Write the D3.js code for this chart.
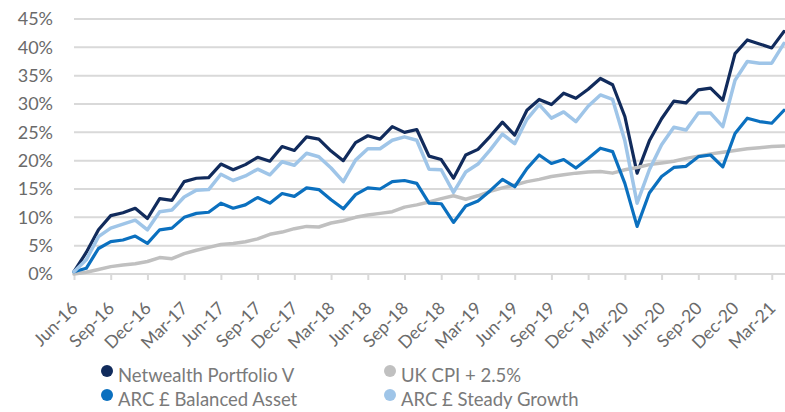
<!DOCTYPE html>
<html>
<head>
<meta charset="utf-8">
<script src="https://cdn.jsdelivr.net/npm/d3@7"></script>
<style>
    html, body { margin: 0; padding: 0; background: #fff; }
    .chart { width: 785px; height: 412px; }
    .grid-line { stroke: #d9d9d9; stroke-width: 2; }
    .axis path, .axis line { stroke: #d9d9d9; stroke-width: 2; }
    .axis text, .y-label { fill: #6a6a6a; font-family: Lato, sans-serif; }
    .series { fill: none; stroke-linejoin: round; stroke-linecap: round; }
    .legend text { fill: #7a7a7a; font-family: Lato, sans-serif; font-size: 18.5px; }
</style>
</head>
<body>
<div class="chart"></div>
<script>
var months = [
    'Jun-16', 'Jul-16', 'Aug-16', 'Sep-16', 'Oct-16', 'Nov-16', 'Dec-16',
    'Jan-17', 'Feb-17', 'Mar-17', 'Apr-17', 'May-17', 'Jun-17', 'Jul-17', 'Aug-17', 'Sep-17', 'Oct-17', 'Nov-17', 'Dec-17',
    'Jan-18', 'Feb-18', 'Mar-18', 'Apr-18', 'May-18', 'Jun-18', 'Jul-18', 'Aug-18', 'Sep-18', 'Oct-18', 'Nov-18', 'Dec-18',
    'Jan-19', 'Feb-19', 'Mar-19', 'Apr-19', 'May-19', 'Jun-19', 'Jul-19', 'Aug-19', 'Sep-19', 'Oct-19', 'Nov-19', 'Dec-19',
    'Jan-20', 'Feb-20', 'Mar-20', 'Apr-20', 'May-20', 'Jun-20', 'Jul-20', 'Aug-20', 'Sep-20', 'Oct-20', 'Nov-20', 'Dec-20',
    'Jan-21', 'Feb-21', 'Mar-21', 'Apr-21'
];

// cumulative return, %
var netwealth = [
    0.4, 3.8, 7.8, 10.3, 10.8, 11.6, 9.8, 13.3, 13.0, 16.3, 16.9, 17.0, 19.4, 18.4, 19.3, 20.6, 19.9, 22.5, 21.8,
    24.2, 23.8, 21.7, 20.0, 23.2, 24.4, 23.8, 26.0, 25.0, 25.5, 20.8, 20.2, 16.9, 21.0, 22.0, 24.3, 26.8, 24.5,
    28.9, 30.8, 29.9, 31.9, 31.0, 32.6, 34.5, 33.4, 27.8, 17.8, 23.5, 27.4, 30.5, 30.2, 32.5, 32.8, 30.7, 38.9,
    41.3, 40.6, 39.9, 42.8
];
var ukCpi = [
    0.0, 0.3, 0.8, 1.3, 1.6, 1.8, 2.2, 2.9, 2.7, 3.6, 4.2, 4.7, 5.2, 5.4, 5.7, 6.2, 7.0, 7.4, 8.0,
    8.4, 8.3, 9.0, 9.4, 10.0, 10.4, 10.7, 11.0, 11.8, 12.2, 12.7, 13.3, 13.8, 13.2, 13.8, 14.6, 15.2, 15.7,
    16.3, 16.7, 17.2, 17.5, 17.8, 18.0, 18.1, 17.8, 18.4, 18.8, 19.3, 19.6, 19.9, 20.4, 20.8, 21.2, 21.5, 21.8,
    22.1, 22.3, 22.5, 22.6
];
var arcBalanced = [
    0.4, 1.0, 4.5, 5.7, 6.0, 6.7, 5.4, 7.8, 8.1, 10.0, 10.7, 10.9, 12.5, 11.6, 12.2, 13.5, 12.5, 14.2, 13.7,
    15.2, 14.9, 13.1, 11.5, 14.0, 15.2, 15.0, 16.3, 16.5, 16.0, 12.5, 12.4, 9.1, 12.0, 12.9, 14.7, 16.7, 15.4,
    18.6, 21.0, 19.5, 20.2, 18.7, 20.4, 22.2, 21.6, 16.0, 8.4, 14.3, 17.2, 18.8, 19.0, 20.7, 21.0, 18.9, 24.8,
    27.5, 26.9, 26.6, 28.9
];
var arcSteady = [
    0.4, 2.5, 6.6, 8.1, 8.8, 9.5, 7.8, 11.0, 11.3, 13.6, 14.8, 14.9, 17.6, 16.5, 17.3, 18.5, 17.5, 19.8, 19.2,
    21.3, 20.7, 18.7, 16.3, 20.1, 22.1, 22.1, 23.6, 24.2, 23.6, 18.5, 18.4, 14.4, 18.0, 19.4, 21.9, 24.7, 23.0,
    27.3, 29.9, 27.5, 28.6, 26.9, 29.6, 31.6, 30.8, 23.5, 12.5, 18.4, 22.8, 25.9, 25.4, 28.4, 28.4, 26.0, 34.2,
    37.5, 37.2, 37.2, 40.7
];
var yTicks = [0, 5, 10, 15, 20, 25, 30, 35, 40, 45];
var seriesNames = ['Netwealth Portfolio V', 'UK CPI + 2.5%', 'ARC £ Balanced Asset', 'ARC £ Steady Growth'];

(function () {
    "use strict";

    var config = {
        selector: '.chart',
        width: 785,
        height: 412,
        plot: { left: 74, right: 784, top: 19, bottom: 274 },
        colors: ['#112b5c', '#c0c0c0', '#0b70bf', '#9fc5e8'],
        widths: [3.2, 3.5, 3.2, 3.5]
    };

    function drawGraph() {
        var p = config.plot;
        var svg = d3.select(config.selector).append('svg')
            .attr('width', config.width)
            .attr('height', config.height);

        var x = d3.scalePoint()
            .domain(months)
            .range([p.left, p.right]);

        var y = d3.scaleLinear()
            .domain([0, 45])
            .range([p.bottom, p.top]);

        // gridlines
        svg.append('g').selectAll('line')
            .data(yTicks)
            .enter().append('line')
            .attr('class', 'grid-line')
            .attr('x1', p.left).attr('x2', config.width)
            .attr('y1', function (d) { return y(d); })
            .attr('y2', function (d) { return y(d); });

        // y labels
        svg.append('g').selectAll('text')
            .data(yTicks)
            .enter().append('text')
            .attr('class', 'y-label')
            .attr('x', 53)
            .attr('y', function (d) { return y(d); })
            .attr('dy', '0.36em')
            .attr('text-anchor', 'end')
            .style('font-size', '18px')
            .text(function (d) { return d + '%'; });

        var xAxis = d3.axisBottom(x)
            .tickValues(months.filter(function (d, i) { return i % 3 === 0; }))
            .tickSize(6)
            .tickSizeOuter(0);

        var gx = svg.append('g')
            .attr('class', 'x axis')
            .attr('transform', 'translate(0,' + p.bottom + ')')
            .call(xAxis);
        gx.select('.domain').remove();
        gx.selectAll('text')
            .attr('x', 0).attr('y', 0).attr('dy', '0.35em')
            .attr('text-anchor', 'end')
            .attr('transform', 'translate(0,31) rotate(-45)')
            .style('font-size', '17.5px');

        var line = d3.line()
            .x(function (d, i) { return x(months[i]); })
            .y(function (d) { return y(d); });

        var series = [netwealth, ukCpi, arcBalanced, arcSteady];
        svg.append('g').selectAll('path')
            .data(series)
            .enter().append('path')
            .attr('class', 'series')
            .attr('d', line)
            .attr('stroke', function (d, i) { return config.colors[i]; })
            .attr('stroke-width', function (d, i) { return config.widths[i]; });

        // legend, two columns
        var legend = svg.append('g').attr('class', 'legend');
        var item = legend.selectAll('g')
            .data(seriesNames)
            .enter().append('g')
            .attr('transform', function (d, i) {
                return 'translate(' + (i % 2 === 0 ? 107 : 390) + ',' + (i < 2 ? 371 : 395) + ')';
            });
        item.append('circle')
            .attr('r', 6)
            .attr('fill', function (d, i) { return config.colors[i]; });
        item.append('text')
            .attr('x', 11)
            .attr('y', 11)
            .text(function (d) { return d; });
    }

    drawGraph();
})();
</script>
</body>
</html>
